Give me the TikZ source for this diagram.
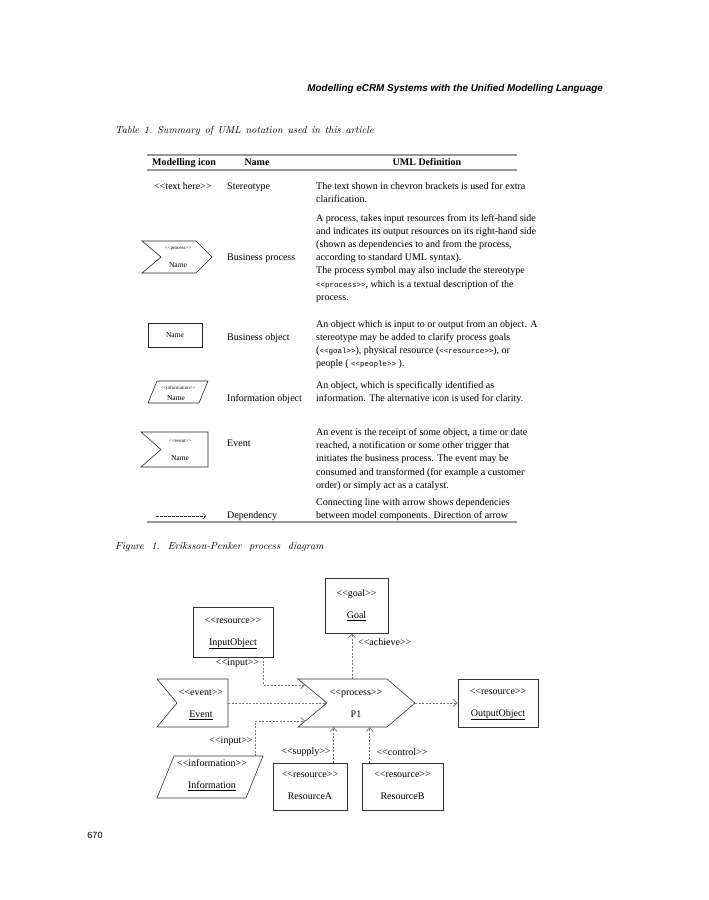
\documentclass[tikz,border=0pt]{standalone}
\usepackage{fontspec}
\usetikzlibrary{arrows.meta,calc}
\newfontfamily\tms{Liberation Serif}
\newfontfamily\hlv{Liberation Sans}
\newfontfamily\mon{Liberation Mono}
\newcommand{\stq}[1]{<\kern0pt<#1>\kern0pt>}
\newcommand{\lns}[1]{\begin{tabular}[t]{@{}l@{}}#1\end{tabular}}
\newcommand{\two}[2]{\begin{tabular}{@{}c@{}}#1\\[10pt]#2\end{tabular}}
\newcommand{\mq}[1]{{\mon\fontsize{7.5}{9}\selectfont\stq{#1}}}
\newcommand{\capsp}[2]{\spaceskip=#1\relax\xspaceskip=#2\relax}
\tikzset{
  txt/.style={anchor=base west, inner sep=0pt, font=\tms\fontsize{10}{13.2}\selectfont},
  hdr/.style={anchor=base, inner sep=0pt, font=\tms\bfseries\fontsize{10}{12}\selectfont},
  rulel/.style={draw=black!40, line width=1.3pt},
  icon/.style={draw=black!85, line width=0.6pt},
  tinyt/.style={inner sep=0pt, font=\tms\fontsize{5}{6}\selectfont},
  smallt/.style={inner sep=0pt, font=\tms\fontsize{7.5}{9}\selectfont},
  figbox/.style={draw=black!80, line width=0.6pt, inner sep=0pt, font=\tms\fontsize{10}{12}\selectfont},
  figline/.style={draw=black!80, line width=0.6pt},
  ftxt/.style={inner sep=0pt, font=\tms\fontsize{10}{12}\selectfont},
  captxt/.style={anchor=base west, inner sep=0pt, font=\itshape\fontsize{10.3}{12}\selectfont},
  dep/.style={draw=black!55, line width=0.7pt, dash pattern=on 2pt off 1.5pt, -{Straight Barb[length=4pt,width=7pt]}},
  depT/.style={draw=black!85, line width=0.5pt, dash pattern=on 2.5pt off 1.5pt, -{Straight Barb[length=3pt,width=6pt]}},
}
\begin{document}
\begin{tikzpicture}[x=1pt,y=-1pt]
\useasboundingbox (0,0) rectangle (709,900);
\fill[white] (0,0) rectangle (709,900);
% running head
\node[anchor=base east, inner sep=0pt, font=\hlv\bfseries\itshape\fontsize{9.9}{12}\selectfont] (runhead) at (603,91) {Modelling eCRM Systems with the Unified Modelling Language};
% table caption
\node[captxt] (tcap) at (115,133) {\capsp{4.6pt plus 1pt}{5pt plus 1pt}Table 1. Summary of UML notation used in this article};
% table
\draw[rulel] (147,155) -- (517,155);
\node[hdr] (h1) at (184,165.5) {Modelling icon};
\node[hdr] (h2) at (257,165.5) {Name};
\node[hdr] (h3) at (427,165.5) {UML Definition};
\draw[rulel] (147,170) -- (517,170);
% row 1
\node[txt] (i1) at (154,189.5) {\stq{text here}};
\node[txt] (n1) at (227,189.5) {Stereotype};
\node[txt] (d1) at (316,189.5) {\lns{The text shown in chevron brackets is used for extra\\ clarification.}};
% row 2
\draw[icon] (142,241) -- (196,241) -- (212,257) -- (196,273) -- (142,273) -- (161,257) -- cycle;
\node[tinyt] (i2a) at (178,249) {\stq{process}};
\node[smallt] (i2b) at (178,265) {Name};
\node[txt] (n2) at (227,260.6) {Business process};
\node[txt] (d2) at (316,221) {\lns{A process, takes input resources from its left-hand side\\
and indicates its output resources on its right-hand side\\
(shown as dependencies to and from the process,\\
according to standard UML syntax).\\
The process symbol may also include the stereotype\\
\mq{process}, which is a textual description of the\\
process.}};
% row 3
\draw[icon] (148,323) rectangle (202,347);
\node[smallt] (i3) at (175,335) {Name};
\node[txt] (n3) at (227,340.5) {Business object};
\node[txt] (d3) at (316,327.3) {\lns{An object which is input to or output from an object. A\\
stereotype may be added to clarify process goals\\
(\mq{goal}), physical resource (\mq{resource}), or\\
people ( \mq{people} ).}};
% row 4
\draw[icon] (157,381) -- (208,381) -- (199,403) -- (148,403) -- cycle;
\node[tinyt] (i4a) at (178,388) {\stq{information}};
\node[smallt] (i4b) at (176,398) {Name};
\node[txt] (n4) at (227,401.5) {Information object};
\node[txt] (d4) at (316,388.3) {\lns{An object, which is specifically identified as\\
information. The alternative icon is used for clarity.}};
% row 5
\draw[icon] (141,432) -- (208,432) -- (208,467) -- (141,467) -- (161,449.5) -- cycle;
\node[tinyt] (i5a) at (180,441) {\stq{event}};
\node[smallt] (i5b) at (180,458) {Name};
\node[txt] (n5) at (227,446) {Event};
\node[txt] (d5) at (316,435.5) {\lns{An event is the receipt of some object, a time or date\\
reached, a notification or some other trigger that\\
initiates the business process. The event may be\\
consumed and transformed (for example a customer\\
order) or simply act as a catalyst.}};
% row 6
\coordinate (depA) at (156,516);
\coordinate (depB) at (206,516);
\draw[depT] (depA) -- (depB);
\node[txt] (n6) at (227,518.7) {Dependency};
\node[txt] (d6) at (316,505.5) {\lns{Connecting line with arrow shows dependencies\\
between model components. Direction of arrow}};
\draw[rulel] (147,522) -- (517,522);
% figure caption
\node[captxt] (fcap) at (115,549.5) {\capsp{7.5pt plus 1pt}{8pt plus 1pt}Figure 1. Eriksson-Penker process diagram};
% figure
\node[figbox, minimum width=63pt, minimum height=55pt] (goal) at (356.5,605.5) {\two{\stq{goal}}{\underline{Goal}}};
\node[figbox, minimum width=80pt, minimum height=50pt] (inobj) at (233,632) {\two{\stq{resource}}{\underline{InputObject}}};
\node[figbox, minimum width=80pt, minimum height=48pt] (outobj) at (498,703) {\two{\stq{resource}}{\underline{OutputObject}}};
\node[figbox, minimum width=74pt, minimum height=47pt] (resA) at (310,786.5) {\two{\stq{resource}}{ResourceA}};
\node[figbox, minimum width=81pt, minimum height=47pt] (resB) at (402.5,786.5) {\two{\stq{resource}}{ResourceB}};
% process P1
\coordinate (p1tl) at (298,679);
\coordinate (p1ts) at (387,679);
\coordinate (p1tip) at (415,703);
\coordinate (p1bs) at (387,727);
\coordinate (p1bl) at (298,727);
\coordinate (p1notch) at (327,703);
\draw[figline] (p1tl) -- (p1ts) -- (p1tip) -- (p1bs) -- (p1bl) -- (p1notch) -- cycle;
\node[ftxt] (p1) at (356,704) {\two{\stq{process}}{P1}};
% event
\coordinate (evtl) at (157,679);
\coordinate (evtr) at (228,679);
\coordinate (evbr) at (228,727);
\coordinate (evbl) at (157,727);
\coordinate (evnotch) at (177,703);
\draw[figline] (evtl) -- (evtr) -- (evbr) -- (evbl) -- (evnotch) -- cycle;
\node[ftxt] (ev) at (201,704.5) {\two{\stq{event}}{\underline{Event}}};
\coordinate (evout) at (228,703);
% information
\coordinate (inftl) at (174,756);
\coordinate (inftr) at (263,756);
\coordinate (infbr) at (246,798);
\coordinate (infbl) at (157,798);
\draw[figline] (inftl) -- (inftr) -- (infbr) -- (infbl) -- cycle;
\node[ftxt] (inf) at (212,775.5) {\two{\stq{information}}{\underline{Information}}};
\coordinate (infout) at (255,756);
% connectors
\coordinate (p1top) at (352,679);
\draw[dep] (p1top) -- (p1top |- goal.south);
\coordinate (inout) at ($(inobj.south east)+(-10,0)$);
\coordinate (p1inA) at ($(p1tl)!0.25!(p1notch)$);
\draw[dep] (inout) |- (p1inA);
\draw[dep] (evout) -- (p1notch);
\coordinate (p1inB) at ($(p1notch)!0.75!(p1bl)$);
\draw[dep] (infout) |- (p1inB);
\draw[dep] (p1tip) -- (outobj.west);
\coordinate (raout) at ($(resA.north west)+(61,0)$);
\draw[dep] (raout) -- (raout |- p1bl);
\coordinate (rbout) at ($(resB.north west)+(8,0)$);
\draw[dep] (rbout) -- (rbout |- p1bl);
% labels
\node[ftxt, anchor=west] (lach) at (358,642) {\stq{achieve}};
\node[ftxt] (lin1) at (237.5,663) {\stq{input}};
\node[ftxt] (lin2) at (231,741) {\stq{input}};
\node[ftxt] (lsup) at (306,752) {\stq{supply}};
\node[ftxt] (lctl) at (402,752) {\stq{control}};
% page number
\node[anchor=base, inner sep=0pt, font=\hlv\fontsize{9}{11}\selectfont] (pgno) at (95,838) {670};
\end{tikzpicture}
\end{document}
